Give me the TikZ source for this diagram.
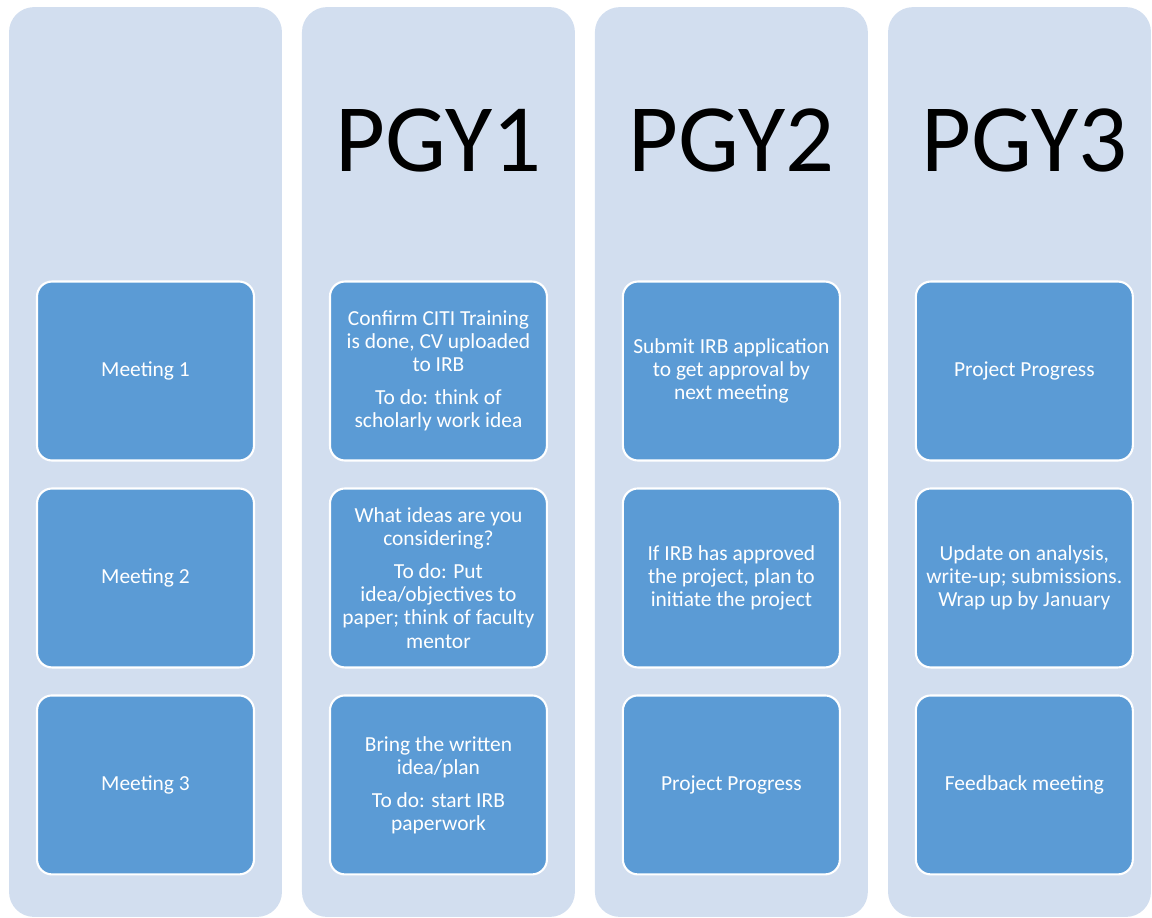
\documentclass[tikz,border=0pt]{standalone}
\usepackage{fontspec}
\setmainfont{Carlito}
\usetikzlibrary{positioning}
\definecolor{laneblue}{HTML}{D2DEEF}
\definecolor{cellblue}{HTML}{5B9BD5}

\begin{document}
\begin{tikzpicture}[x=0.02cm,y=-0.02cm,on grid,
    column/.style={fill=laneblue, rounded corners=0.5cm, minimum width=5.46cm, minimum height=18.2cm, inner sep=0pt},
    meeting/.style={draw=white, line width=1.2pt, fill=cellblue, rounded corners=0.3cm, minimum width=4.34cm, minimum height=3.58cm, align=center, text=white, font=\fontsize{12.2}{13.2}\selectfont},
    yearhead/.style={font=\fontsize{55}{60}\selectfont}]
  \useasboundingbox (0,0) rectangle (1152,917);
  % lanes
  \node[column] (lane1) at (145.5,462) {};
  \node[column] (lane2) [right=5.86cm of lane1] {};
  \node[column] (lane3) [right=5.86cm of lane2] {};
  \node[column, minimum width=5.26cm] (lane4) at (1019.5,462) {};
  % row titles
  \node[meeting] (m1) at (145.5,371) {Meeting 1};
  \node[meeting] (m2) [below=4.14cm of m1] {Meeting 2};
  \node[meeting] (m3) [below=4.14cm of m2] {Meeting 3};
  % PGY1
  \node[meeting] (a1) [right=5.86cm of m1] {Confirm CITI Training\\is done, CV uploaded\\to IRB\\[5.5pt]To do: think of\\scholarly work idea};
  \node[meeting] (a2) [right=5.86cm of m2] {What ideas are you\\considering?\\[5.5pt]To do: Put\\idea/objectives to\\paper; think of faculty\\mentor};
  \node[meeting] (a3) [right=5.86cm of m3] {Bring the written\\idea/plan\\[5.5pt]To do: start IRB\\paperwork};
  % PGY2
  \node[meeting] (b1) [right=5.86cm of a1] {Submit IRB application\\to get approval by\\next meeting};
  \node[meeting] (b2) [right=5.86cm of a2] {If IRB has approved\\the project, plan to\\initiate the project};
  \node[meeting] (b3) [right=5.86cm of a3] {Project Progress};
  % PGY3
  \node[meeting] (c1) [right=5.86cm of b1] {Project Progress};
  \node[meeting] (c2) [right=5.86cm of b2] {Update on analysis,\\write-up; submissions.\\Wrap up by January};
  \node[meeting] (c3) [right=5.86cm of b3] {Feedback meeting};
  % headers
  \node[yearhead] (pgy1) [above=4.62cm of a1] {PGY1};
  \node[yearhead] (pgy2) [above=4.62cm of b1] {PGY2};
  \node[yearhead] (pgy3) [above=4.62cm of c1] {PGY3};
\end{tikzpicture}
\end{document}
